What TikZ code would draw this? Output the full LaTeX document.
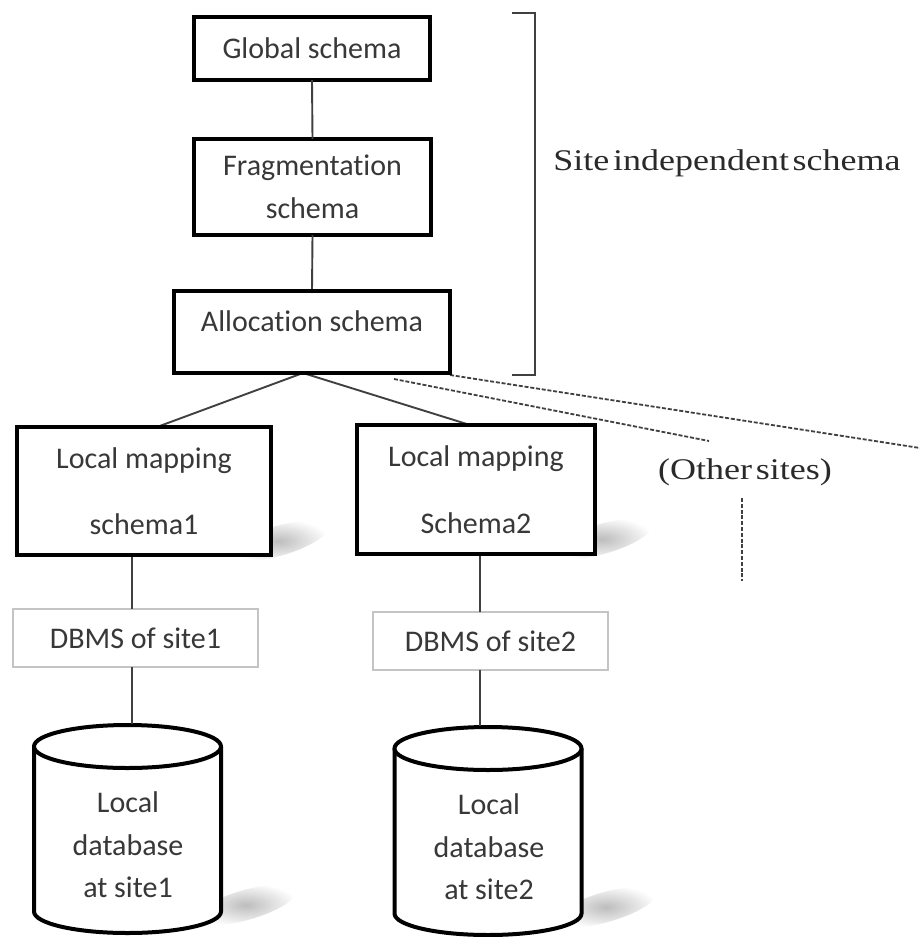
\documentclass[tikz,border=0pt]{standalone}
\usepackage{fontspec}
\setmainfont{Carlito}[Ligatures={NoCommon}]
\newfontfamily\notefont[FakeStretch=1.2,WordSpace=0.4]{Liberation Serif}
\usetikzlibrary{calc}

\definecolor{textgray}{HTML}{383838}
\definecolor{notegray}{HTML}{2A2A2A}
\definecolor{linkgray}{HTML}{404040}
\definecolor{boxgray}{HTML}{C4C4C4}

% soft drop shadow: a blurred streak tilted up to the right
\newcommand\softshadow[2]{%
  \begin{scope}[shift={(#1,#2)}, rotate=16]
    \shade[inner color=black!26, outer color=white] (0,0) ellipse [x radius=52, y radius=15];
  \end{scope}%
}

\begin{document}
\begin{tikzpicture}[x=1pt,y=1pt,
  every node/.style={inner sep=0pt, outer sep=0pt},
  boxtext/.style={font=\fontsize{30}{42.5}\selectfont, text=textgray, align=center},
  mainbox/.style={draw=black, line width=4.2pt, fill=white, boxtext},
  dbmsbox/.style={draw=boxgray, line width=1.2pt, fill=white, boxtext},
  link/.style={draw=linkgray, line width=1.9pt},
  dashlink/.style={draw=linkgray, line width=1.8pt, dash pattern=on 4pt off 1.8pt},
  cyl/.style={draw=black, line width=4pt, fill=white},
  note/.style={font=\notefont\fontsize{30}{36}\selectfont, text=notegray, anchor=base}
]
\useasboundingbox (0,0) rectangle (920,-937);

% shadows behind the site boxes and databases
\softshadow{278}{-541}
\softshadow{602}{-539}
\softshadow{246}{-905}
\softshadow{606}{-907}

% site independent part
\node[mainbox, minimum width=236, minimum height=63] (glob) at (312,-48.5) {Global schema};
\node[mainbox, minimum width=237, minimum height=96] (frag) at (312.5,-187) {Fragmentation\\schema};
\node[mainbox, minimum width=276, minimum height=82] (alloc) at (312,-332)
  {\raisebox{11pt}[\height][\depth]{Allocation schema}};

\draw[link] (glob.south) -- (frag.north);
\draw[link] (frag.south) -- (alloc.north);

% bracket and its caption
\draw[link] (512,-13) -- (535,-13) -- (535,-375) -- (512,-375);
\node[note] (sis) at (727,-170) {Site independent schema};

% local sites
\node[mainbox, minimum width=254, minimum height=128] (lm1) at (144,-491) {Local mapping\\[24pt]schema1};
\node[mainbox, minimum width=238, minimum height=129] (lm2) at (476,-489.5) {Local mapping\\[24pt]Schema2};
\node[dbmsbox, minimum width=245, minimum height=58] (db1) at (135.5,-638) {DBMS of site1};
\node[dbmsbox, minimum width=235, minimum height=58] (db2) at (490.5,-641) {DBMS of site2};

\coordinate (apex) at ([xshift=-9pt]alloc.south);
\draw[link] (apex) -- ([xshift=13pt]lm1.north);
\draw[link] (apex) -- ([xshift=-6pt]lm2.north);

% other sites
\coordinate (ds1) at ($(alloc.south)+(82,-6)$);
\coordinate (de1) at (709,-441);
\coordinate (ds2) at ($(alloc.south east)+(0,-2)$);
\coordinate (de2) at (920,-448);
\draw[dashlink] (ds1) -- (de1);
\draw[dashlink] (ds2) -- (de2);
\node[note] (other) at (745,-479) {(Other sites)};
\coordinate (vd1) at (742,-498);
\coordinate (vd2) at (742,-581);
\draw[dashlink] (vd1) -- (vd2);

% databases
\coordinate (c1top) at (132,-724);
\coordinate (c2top) at (480,-726);
\draw[cyl] (34,-746.5) -- (34,-911.5) arc[start angle=180, end angle=360, x radius=93.5, y radius=21.5] -- (221,-746.5);
\draw[cyl] (127.5,-746.5) ellipse [x radius=93.5, y radius=21.5];
\draw[cyl] (394.5,-748.5) -- (394.5,-913.5) arc[start angle=180, end angle=360, x radius=93.5, y radius=21.5] -- (581.5,-748.5);
\draw[cyl] (488,-748.5) ellipse [x radius=93.5, y radius=21.5];
\node[boxtext] (ldb1) at (128,-845) {Local\\database\\at site1};
\node[boxtext] (ldb2) at (489,-847) {Local\\database\\at site2};

% vertical links within each site
\draw[link] (lm1.south -| c1top) -- (db1.north -| c1top);
\draw[link] (db1.south -| c1top) -- (c1top);
\draw[link] (lm2.south -| c2top) -- (db2.north -| c2top);
\draw[link] (db2.south -| c2top) -- (c2top);

% redraw the box borders over the link ends
\node[mainbox, minimum width=276, minimum height=82] at (alloc) {\raisebox{11pt}[\height][\depth]{Allocation schema}};
\node[mainbox, minimum width=254, minimum height=128] at (lm1) {Local mapping\\[24pt]schema1};
\node[mainbox, minimum width=238, minimum height=129] at (lm2) {Local mapping\\[24pt]Schema2};
\end{tikzpicture}
\end{document}
